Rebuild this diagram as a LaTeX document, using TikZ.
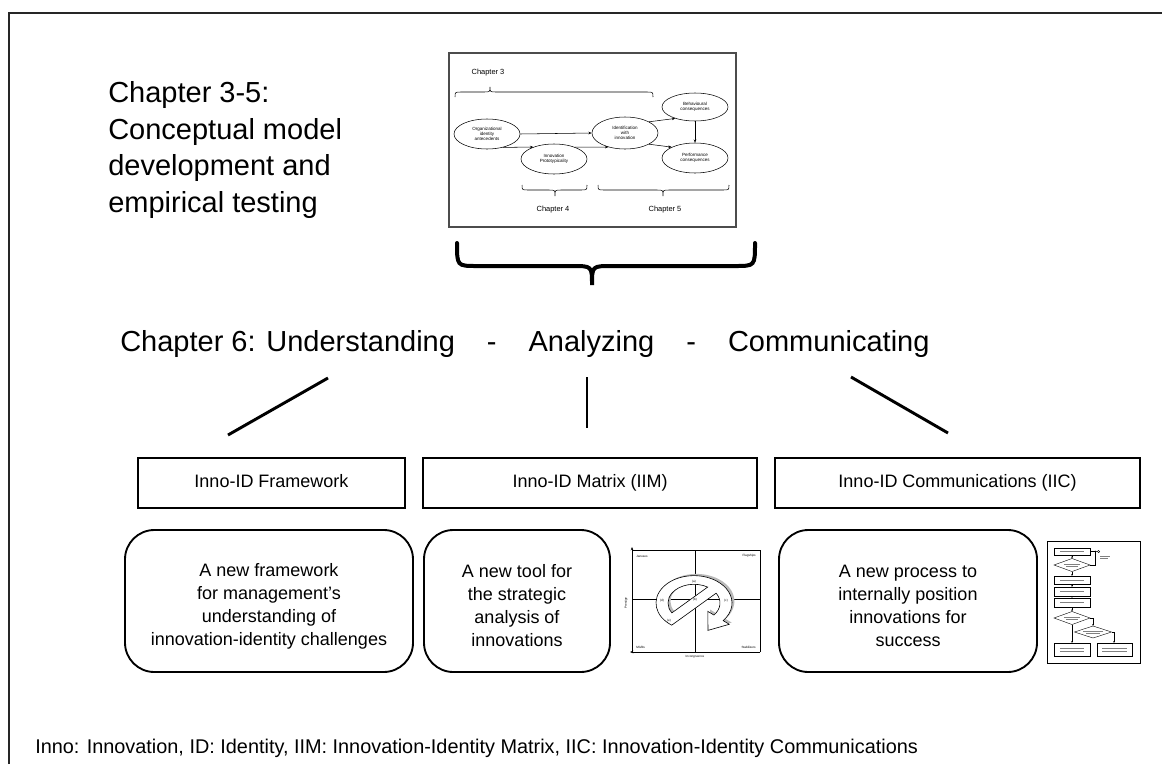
\documentclass[tikz,border=0pt]{standalone}
\usepackage{fontspec}
\setmainfont{Liberation Sans}
\usetikzlibrary{shapes.geometric,arrows.meta}
\newcommand\mybrace[8]{%
  \draw[#1] (#2,#5) .. controls (#2,#6) .. (#2+#8,#6) -- (#4-#8,#6) .. controls (#4,#6) .. (#4,#7) .. controls (#4,#6) .. (#4+#8,#6) -- (#3-#8,#6) .. controls (#3,#6) .. (#3,#5);}
\begin{document}
\begin{tikzpicture}[x=0.75pt,y=-0.75pt,
  bigtext/.style={font=\fontsize{21.75}{27.4}\selectfont, inner sep=0pt},
  bodytext/.style={font=\fontsize{13.5}{17.25}\selectfont, align=center, inner sep=0pt},
  titlebox/.style={draw, line width=1.1pt, minimum height=50*0.75pt, text height=10pt, text depth=3pt, font=\fontsize{13.5}{16}\selectfont},
  roundbox/.style={draw, line width=1.4pt, rounded corners=22pt, minimum height=142*0.75pt},
  ell/.style={ellipse, draw, line width=0.4pt, minimum width=49.5pt, minimum height=22.5pt, inner sep=0pt, align=center, font=\fontsize{3.4}{3.9}\selectfont},
  tinyarrow/.style={line width=0.4pt, -{Stealth[length=2.5pt,width=2pt]}},
  smalltext/.style={font=\fontsize{5.6}{6.5}\selectfont, inner sep=0pt},
  mtext/.style={font=\fontsize{2.3}{2.6}\selectfont, inner sep=0pt},
  conn/.style={line width=2.2pt},
  fc/.style={line width=0.5pt, fill=white},
  fcl/.style={line width=0.3pt},
  fctext/.style={line width=0.25pt, gray}
]
\useasboundingbox (0,0) rectangle (1162,764);
% outer frame
\draw[line width=1.2pt, black!85] (9,764) -- (9,13) -- (1162,13);

% left text
\node[bigtext, anchor=north west, align=left] (lefttext) at (108,81.5)
  {Chapter 3-5:\\Conceptual model\\development and\\empirical testing};

% inset model
\draw[gray!60!black, line width=0.8pt] (449,53) rectangle (736,227);
\node[smalltext] (ch3) at (488,73) {Chapter 3};
\mybrace{line width=0.4pt}{455}{653}{490}{97}{92}{87}{6}
\node[ell] (org) at (487,134) {Organizational\\identity\\antecedents};
\node[ell] (proto) at (554,159) {Innovation\\Prototypicality};
\node[ell, minimum height=24pt] (ident) at (625,133) {Identification\\with\\innovation};
\node[ell, minimum height=21pt] (behav) at (695,107) {Behavioural\\consequences};
\node[ell] (perf) at (695,158) {Performance\\consequences};
\draw[tinyarrow] (org.east) -- (ident.west);
\draw[tinyarrow] (org.-40) -- (proto.150);
\draw[tinyarrow] (proto.30) -- (ident.-140);
\draw[tinyarrow] (ident.25) -- (behav.-150);
\draw[tinyarrow] (ident.-25) -- (perf.155);
\draw[tinyarrow] (behav.south) -- (perf.north);
\mybrace{line width=0.4pt}{522}{587}{555}{185}{190}{196}{6}
\mybrace{line width=0.4pt}{598}{729}{663}{185}{190}{196}{6}
\node[smalltext] (ch4) at (553,210) {Chapter 4};
\node[smalltext] (ch5) at (665,210) {Chapter 5};

% big brace
\mybrace{line width=3pt, line cap=round}{457}{755}{592}{243}{266}{285}{20}

% heading
\node[bigtext, anchor=base west] (heading) at (120,351)
  {Chapter 6: Understanding\hspace{24pt}-\hspace{24pt}Analyzing\hspace{24pt}-\hspace{24pt}Communicating};

% connectors
\coordinate (l1a) at (328,378); \coordinate (l1b) at (228,435);
\coordinate (l2a) at (587,377); \coordinate (l2b) at (587,428);
\coordinate (l3a) at (851,377); \coordinate (l3b) at (948,433);
\draw[conn] (l1a) -- (l1b);
\draw[conn] (l2a) -- (l2b);
\draw[conn] (l3a) -- (l3b);

% title boxes
\node[titlebox, minimum width=267*0.75pt] (tb1) at (271.5,483) {Inno-ID Framework};
\node[titlebox, minimum width=334*0.75pt] (tb2) at (590,483) {Inno-ID Matrix (IIM)};
\node[titlebox, minimum width=365*0.75pt] (tb3) at (957.5,483) {Inno-ID Communications (IIC)};

% rounded boxes
\node[roundbox, minimum width=288*0.75pt] (rb1) at (269,601) {};
\node[roundbox, minimum width=186*0.75pt] (rb2) at (517,601) {};
\node[roundbox, minimum width=258*0.75pt] (rb3) at (908,601) {};
\node[bodytext] (t1) at (269,606) {A new framework\\for management’s\\understanding of\\innovation-identity challenges};
\node[bodytext] (t2) at (517,606) {A new tool for\\the strategic\\analysis of\\innovations};
\node[bodytext] (t3) at (908,606) {A new process to\\internally position\\innovations for\\success};

% matrix thumbnail
\draw[line width=0.4pt] (632,550) -- (760,550) -- (760,652);
\draw[line width=0.4pt, -{Stealth[length=2.5pt,width=2pt]}] (760,652) -- (630,652);
\draw[line width=0.4pt, -{Stealth[length=2.5pt,width=2pt]}] (632,652) -- (632,547);
\draw[line width=0.4pt] (695,550) -- (695,652);
\draw[line width=0.4pt] (632,599) -- (760,599);
\node[mtext, anchor=west] (mj) at (636,556) {Januses};
\node[mtext, anchor=east] (mf) at (756,556) {Flagships};
\node[mtext, anchor=west] (mm) at (636,647) {Misfits};
\node[mtext, anchor=east] (ms) at (756,647) {Stabilizers};
\node[mtext, rotate=90] (mp) at (626,603) {Prestige};
\node[mtext] (mi) at (695,657) {Incongruence};
\begin{scope}[shift={(694,603)}, yscale=-0.72]
  \fill[gray!55, xshift=1.8pt, yshift=-1.8pt, even odd rule]
    (234.1:38) arc[start angle=234.1, end angle=-40, radius=38] -- (-40:46) -- (14,-38) -- (-40:18) -- (-40:26)
    arc[start angle=-40, end angle=31.7, radius=26] -- cycle
    (58.3:26) arc[start angle=58.3, end angle=211.7, radius=26] -- cycle;
  \filldraw[fill=white, line width=0.45pt, even odd rule]
    (234.1:38) arc[start angle=234.1, end angle=-40, radius=38] -- (-40:46) -- (14,-38) -- (-40:18) -- (-40:26)
    arc[start angle=-40, end angle=31.7, radius=26] -- cycle
    (58.3:26) arc[start angle=58.3, end angle=211.7, radius=26] -- cycle;
\end{scope}
\node[mtext] (ma) at (694,582) {(a)};
\node[mtext] (mb) at (695,600) {(b)};
\node[mtext] (mc) at (726,601) {(c)};
\node[mtext] (md) at (662,601) {(d)};
\node[mtext] (me) at (669,621) {(e)};

% flowchart thumbnail
\draw[line width=0.5pt] (1047,541) rectangle (1140,663);
\draw[fc] (1054,548) rectangle (1090,555);
\draw[fc] (1054,576) rectangle (1090,584);
\draw[fc] (1054,587) rectangle (1090,596);
\draw[fc] (1054,598) rectangle (1090,607);
\draw[fc] (1054,643) rectangle (1090,656);
\draw[fc] (1097,643) rectangle (1132,656);
\draw[fcl] (1054,565) -- (1072,558.5) -- (1090,565) -- (1072,571.5) -- cycle;
\draw[fcl] (1054,618) -- (1072,611.5) -- (1090,618) -- (1072,624.5) -- cycle;
\draw[fcl] (1074.5,632) -- (1093,626) -- (1111.5,632) -- (1093,638) -- cycle;
\draw[fcl, -{Stealth[length=1.5pt,width=1.2pt]}] (1072,555) -- (1072,558.5);
\draw[fcl, -{Stealth[length=1.5pt,width=1.2pt]}] (1072,571.5) -- (1072,576);
\draw[fcl, -{Stealth[length=1.5pt,width=1.2pt]}] (1072,584) -- (1072,587);
\draw[fcl, -{Stealth[length=1.5pt,width=1.2pt]}] (1072,596) -- (1072,598);
\draw[fcl, -{Stealth[length=1.5pt,width=1.2pt]}] (1072,607) -- (1072,611.5);
\draw[fcl, -{Stealth[length=1.5pt,width=1.2pt]}] (1072,624.5) -- (1072,643);
\draw[fcl, -{Stealth[length=1.5pt,width=1.2pt]}] (1090,618) -- (1093,618) -- (1093,626);
\draw[fcl, -{Stealth[length=1.5pt,width=1.2pt]}] (1111.5,632) -- (1114,632) -- (1114,643);
\draw[fcl] (1090,565) -- (1095,565) -- (1095,552);
\draw[fcl, -{Stealth[length=1.5pt,width=1.2pt]}] (1090,551.5) -- (1097,551.5);
\draw[fcl] (1098.5,551.5) circle (1.2);
\foreach \y in {551.5,580,591.5,602.5,648,651} {\draw[fctext] (1060,\y) -- (1084,\y);}
\foreach \y in {648,651} {\draw[fctext] (1102,\y) -- (1127,\y);}
\draw[fctext] (1100,556) -- (1110,556); \draw[fctext] (1100,558.5) -- (1108,558.5);
\draw[fctext] (1064,564) -- (1080,564); \draw[fctext] (1066,566.5) -- (1078,566.5);
\draw[fctext] (1064,617) -- (1080,617); \draw[fctext] (1066,619.5) -- (1078,619.5);
\draw[fctext] (1083,631) -- (1103,631); \draw[fctext] (1086,633.5) -- (1100,633.5);

% footer
\node[font=\fontsize{14.9}{17}\selectfont, anchor=base west, inner sep=0pt] (footer) at (35,753)
  {Inno: Innovation, ID: Identity, IIM: Innovation-Identity Matrix, IIC: Innovation-Identity Communications};
\end{tikzpicture}
\end{document}
